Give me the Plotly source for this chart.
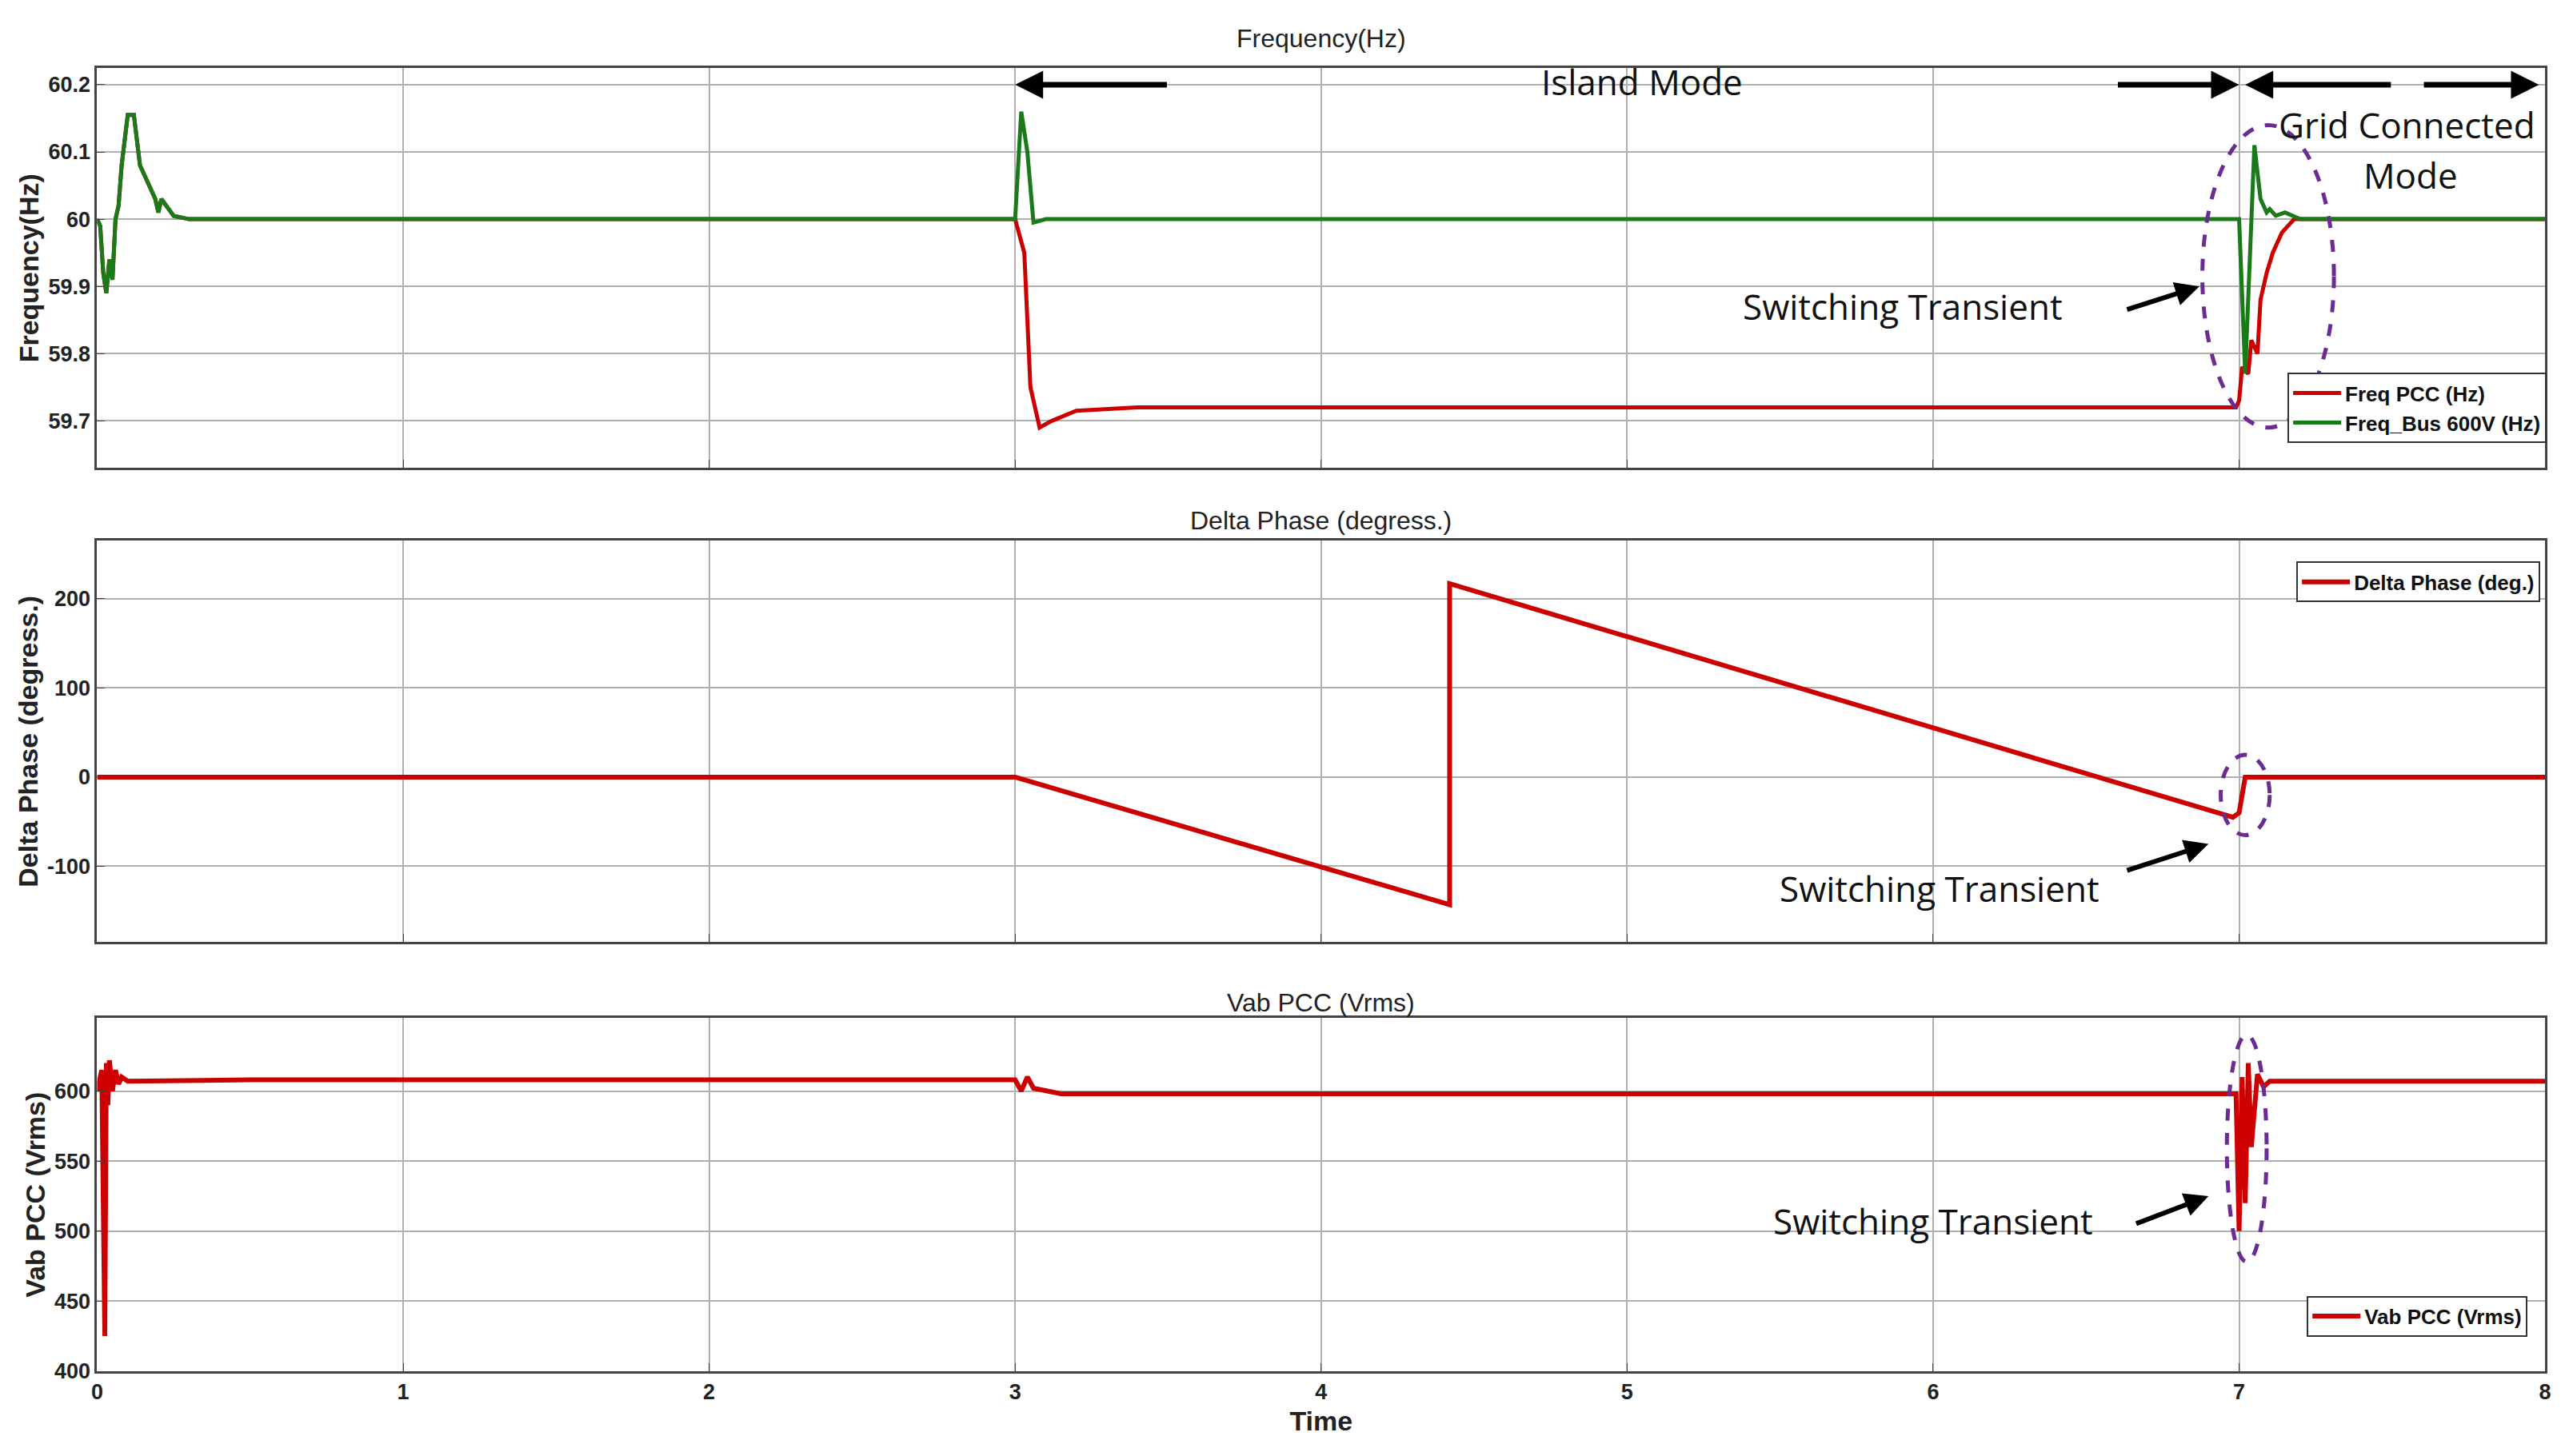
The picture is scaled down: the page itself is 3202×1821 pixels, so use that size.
import plotly.graph_objects as go

# ---- data ----
t_bus = [0, 0.01, 0.02, 0.03, 0.04, 0.05, 0.06, 0.07, 0.08, 0.1, 0.12, 0.14, 0.17, 0.19, 0.2, 0.21, 0.25, 0.3, 3.0, 3.02, 3.04, 3.06, 3.1, 6.98, 7.0, 7.02, 7.035, 7.05, 7.07, 7.09, 7.1, 7.12, 7.15, 7.2, 8.0]
f_bus = [60.0, 59.99, 59.92, 59.89, 59.94, 59.91, 60.0, 60.02, 60.08, 60.155, 60.155, 60.08, 60.05, 60.03, 60.01, 60.03, 60.005, 60.0, 60.0, 60.16, 60.1, 59.995, 60.0, 60.0, 60.0, 59.77, 59.95, 60.11, 60.03, 60.01, 60.015, 60.005, 60.01, 60.0, 60.0]
t_pcc = [3.0, 3.03, 3.05, 3.08, 3.12, 3.2, 3.4, 4.0, 5.0, 6.0, 6.99, 7.0, 7.01, 7.03, 7.04, 7.06, 7.07, 7.09, 7.11, 7.14, 7.18, 8.0]
f_pcc = [60.0, 59.95, 59.75, 59.69, 59.70, 59.715, 59.72, 59.72, 59.72, 59.72, 59.72, 59.73, 59.78, 59.77, 59.82, 59.80, 59.88, 59.92, 59.95, 59.98, 60.0, 60.0]
t_ph = [0, 3.0, 4.42, 4.42, 6.98, 7.0, 7.02, 8.0]
phase = [0, 0, -143, 217, -45, -40, 0, 0]
t_v = [0, 0.015, 0.025, 0.03, 0.035, 0.04, 0.05, 0.06, 0.07, 0.08, 0.1, 0.5, 3.0, 3.02, 3.04, 3.06, 3.15, 6.99, 7.0, 7.01, 7.02, 7.03, 7.04, 7.06, 7.08, 7.1, 8.0]
v_pcc = [600, 615, 425, 620, 590, 622, 600, 615, 605, 610, 607, 608, 608, 600, 610, 602, 598, 598, 500, 610, 520, 620, 560, 612, 603, 607, 607]
x_ticks = [0, 1, 2, 3, 4, 5, 6, 7, 8]

RED = "#cc0000"
GREEN = "#1a7a1a"
PURPLE = "#6a2c91"

fig = go.Figure()
fig.add_trace(go.Scatter(x=t_bus[:18] + t_pcc, y=f_bus[:18] + f_pcc, mode="lines",
                         line=dict(color=RED, width=5), name="<b>Freq PCC (Hz)</b>", legend="legend", xaxis="x", yaxis="y"))
fig.add_trace(go.Scatter(x=t_bus, y=f_bus, mode="lines", line=dict(color=GREEN, width=5),
                         name="<b>Freq_Bus 600V (Hz)</b>", legend="legend", xaxis="x", yaxis="y"))
fig.add_trace(go.Scatter(x=t_ph, y=phase, mode="lines", line=dict(color=RED, width=6),
                         name="<b>Delta Phase (deg.)</b>", legend="legend2", xaxis="x2", yaxis="y2"))
fig.add_trace(go.Scatter(x=t_v, y=v_pcc, mode="lines", line=dict(color=RED, width=6),
                         name="<b>Vab PCC (Vrms)</b>", legend="legend3", xaxis="x3", yaxis="y3"))

tickfont = dict(family="Liberation Sans Narrow, Liberation Sans, Arial", size=27, color="#222")
titlefont = dict(family="Liberation Sans, Arial", size=34, color="#222")
xd = [106 / 3202, 3182 / 3202]
axcommon = dict(showgrid=True, gridcolor="#b0b0b0", gridwidth=2, showline=True, linecolor="#444",
                linewidth=3, mirror=True, ticks="inside", ticklen=10, tickcolor="#444", zeroline=False,
                tickfont=tickfont)

def ydom(top, bot):
    return [1 - bot / 1821, 1 - top / 1821]

legfont = dict(family="Liberation Sans Narrow, Arial", size=26, color="#111")
fig.update_layout(
    width=3202, height=1821, margin=dict(l=0, r=0, t=0, b=0),
    paper_bgcolor="white", plot_bgcolor="white",
    xaxis=dict(domain=xd, range=[0, 8], tickvals=x_ticks, showticklabels=False, anchor="y", **axcommon),
    xaxis2=dict(domain=xd, range=[0, 8], tickvals=x_ticks, showticklabels=False, anchor="y2", **axcommon),
    xaxis3=dict(domain=xd, range=[0, 8], tickvals=x_ticks, anchor="y3",
                ticktext=["<b>%d</b>" % v for v in x_ticks],
                title=dict(text="<b>Time</b>", font=titlefont, standoff=10), **axcommon),
    yaxis=dict(domain=ydom(78, 582), range=[59.63, 60.2245], tickvals=[59.7, 59.8, 59.9, 60, 60.1, 60.2],
               ticktext=["<b>59.7</b>", "<b>59.8</b>", "<b>59.9</b>", "<b>60</b>", "<b>60.1</b>", "<b>60.2</b>"],
               title=dict(text="<b>Frequency(Hz)</b>", font=titlefont, standoff=2), anchor="x", **axcommon),
    yaxis2=dict(domain=ydom(674, 1180), range=[-185, 265], tickvals=[-100, 0, 100, 200],
                ticktext=["<b>-100</b>", "<b>0</b>", "<b>100</b>", "<b>200</b>"],
                title=dict(text="<b>Delta Phase (degress.)</b>", font=titlefont, standoff=2), anchor="x2", **axcommon),
    yaxis3=dict(domain=ydom(1276, 1721), range=[400, 652], tickvals=[400, 450, 500, 550, 600],
                ticktext=["<b>400</b>", "<b>450</b>", "<b>500</b>", "<b>550</b>", "<b>600</b>"],
                title=dict(text="<b>Vab PCC (Vrms)</b>", font=titlefont, standoff=2), anchor="x3", **axcommon),
    showlegend=True,
    legend=dict(x=3184 / 3202, xanchor="right", y=1 - 462 / 1821, yanchor="top", bgcolor="white",
                bordercolor="#333", borderwidth=2, font=legfont, tracegroupgap=0, itemwidth=60),
    legend2=dict(x=3176 / 3202, xanchor="right", y=1 - 700 / 1821, yanchor="top", bgcolor="white",
                 bordercolor="#333", borderwidth=2, font=legfont, itemwidth=60),
    legend3=dict(x=3160 / 3202, xanchor="right", y=1 - 1626 / 1821, yanchor="top", bgcolor="white",
                 bordercolor="#333", borderwidth=2, font=legfont, itemwidth=60),
)

sub_title_font = dict(family="Liberation Sans Narrow, Liberation Sans, Arial", size=32, color="#222")
for txt, yy in [("Frequency(Hz)", 40), ("Delta Phase (degress.)", 648), ("Vab PCC (Vrms)", 1256)]:
    fig.add_annotation(text=txt, xref="paper", yref="paper", x=(xd[0] + xd[1]) / 2, y=1 - yy / 1821,
                       showarrow=False, font=sub_title_font, xanchor="center", yanchor="middle")

big = dict(family="Open Sans, Lato, sans-serif", size=44, color="#111")
fig.add_annotation(text="Island Mode", x=5.05, y=60.205, xref="x", yref="y", showarrow=False, font=big)
fig.add_annotation(text="Grid Connected", x=7.55, y=60.14, xref="x", yref="y", showarrow=False, font=big)
fig.add_annotation(text="Mode", x=7.56, y=60.065, xref="x", yref="y", showarrow=False, font=big)

# horizontal mode arrows
for (x0, x1) in [(3.5, 3.0), (6.6, 7.0), (7.5, 7.02), (7.6, 7.98)]:
    fig.add_annotation(x=x1, y=60.2, ax=x0, ay=60.2, xref="x", yref="y", axref="x", ayref="y",
                       showarrow=True, arrowhead=2, arrowsize=1, arrowwidth=7, arrowcolor="black", text="")

# switching transient labels
st = [("x", "y", 5.9, 59.87, 6.63, 59.865, 6.87, 59.9),
      ("x2", "y2", 6.02, -125, 6.63, -105, 6.9, -75),
      ("x3", "y3", 6.0, 507, 6.66, 505, 6.9, 525)]
for xr, yr, tx, ty, ax0, ay0, hx, hy in st:
    fig.add_annotation(text="Switching Transient", x=tx, y=ty, xref=xr, yref=yr, showarrow=False, font=big)
    fig.add_annotation(x=hx, y=hy, ax=ax0, ay=ay0, xref=xr, yref=yr, axref=xr, ayref=yr, text="",
                       showarrow=True, arrowhead=2, arrowsize=1, arrowwidth=6, arrowcolor="black")

# ellipses
for xr, yr, x0, x1, y0, y1 in [("x", "y", 6.88, 7.31, 59.69, 60.14),
                                ("x2", "y2", 6.94, 7.1, -65, 25),
                                ("x3", "y3", 6.96, 7.09, 478, 640)]:
    fig.add_shape(type="circle", xref=xr, yref=yr, x0=x0, x1=x1, y0=y0, y1=y1,
                  line=dict(color=PURPLE, width=5, dash="dash"))

fig.write_html("out.html")
